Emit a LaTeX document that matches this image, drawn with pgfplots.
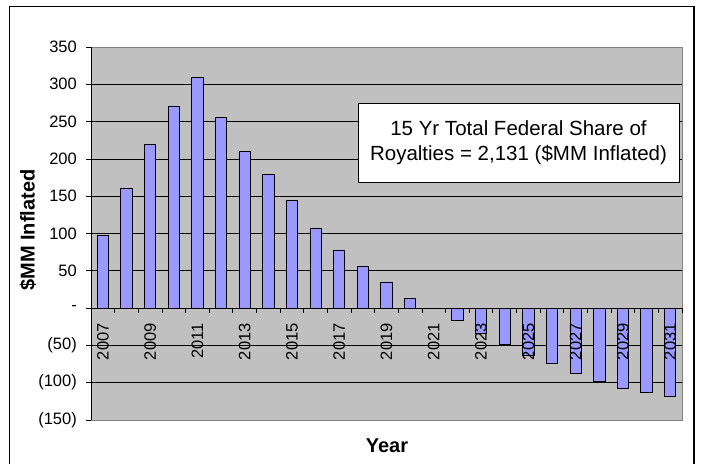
\documentclass[border=0pt]{standalone}
\usepackage{pgfplots}
\usepackage{pgfplotstable}
\pgfplotsset{compat=1.18}
\usepackage{fontspec}
\setmainfont{Liberation Sans}

\definecolor{plotgray}{HTML}{C0C0C0}
\definecolor{framegray}{HTML}{808080}
\definecolor{barblue}{HTML}{9999FF}

% bars sit above the grid but below the axis lines and tick labels
\pgfplotsset{
  layers/bars under labels/.define layer set={
    axis background,axis grid,main,axis ticks,axis lines,axis tick labels,
    axis descriptions,axis foreground
  }{/pgfplots/layers/standard},
}

% federal share of royalties, $MM inflated (index 0 = 2007)
\pgfplotstableread{
idx year value
0  2007  97
1  2008  161
2  2009  219
3  2010  270
4  2011  309
5  2012  256
6  2013  210
7  2014  179
8  2015  144
9  2016  107
10 2017  78
11 2018  56
12 2019  35
13 2020  13
14 2021  0
15 2022  -17
16 2023  -34
17 2024  -48
18 2025  -63
19 2026  -74
20 2027  -88
21 2028  -98
22 2029  -107
23 2030  -113
24 2031  -118
}\royalties

\begin{document}
\begin{tikzpicture}
\path (0pt,0pt) rectangle (703pt,463pt);
\draw[overlay, line width=1.2pt] (9.5pt,-3pt) rectangle (694pt,456.5pt);

\begin{axis}[
  set layers=bars under labels,
  at={(91pt,43pt)}, anchor=south west,
  scale only axis, width=591pt, height=373pt,
  xmin=-0.5, xmax=24.5, ymin=-150, ymax=350,
  axis background/.style={fill=plotgray},
  axis x line*=middle, axis y line*=left,
  axis line style={-, line width=0.8pt, black},
  tick align=outside,
  major tick length=5pt, minor tick length=5pt,
  tick style={black, line width=0.8pt},
  major x tick style={opacity=0},
  xtick={0,2,...,24},
  xticklabels={2007,2009,2011,2013,2015,2017,2019,2021,2023,2025,2027,2029,2031},
  minor xtick={-0.5,0.5,...,24.5},
  ytick={-150,-100,...,350},
  yticklabels={(150),(100),(50),-,50,100,150,200,250,300,350},
  ymajorgrids,
  major grid style={black, line width=0.7pt},
  tick label style={font=\fontsize{16.5}{19}\selectfont},
  xticklabel style={rotate=90, anchor=east, inner sep=0pt, xshift=-10pt},
  yticklabel style={anchor=east, inner sep=0pt, xshift=-9pt},
  clip=false,
]
\addplot[ybar, bar width=0.48, fill=barblue, draw=black, line width=0.8pt]
  table[x=idx, y=value] {\royalties};
\draw[framegray, line width=0.8pt]
  (rel axis cs:0,1) -- (rel axis cs:1,1) -- (rel axis cs:1,0) -- (rel axis cs:0,0);
\end{axis}

\node[rotate=90, font=\bfseries\fontsize{20}{24}\selectfont] at (28pt,233pt) {\$MM Inflated};
\node[font=\bfseries\fontsize{20}{24}\selectfont] at (387pt,17pt) {Year};
\node[draw, fill=white, line width=0.9pt, minimum width=321pt, minimum height=79pt,
      align=center, font=\fontsize{20.5}{25}\selectfont]
  at (518.5pt,320.5pt) {15 Yr Total Federal Share of\\Royalties = 2,131 (\$MM Inflated)};
\end{tikzpicture}
\end{document}
